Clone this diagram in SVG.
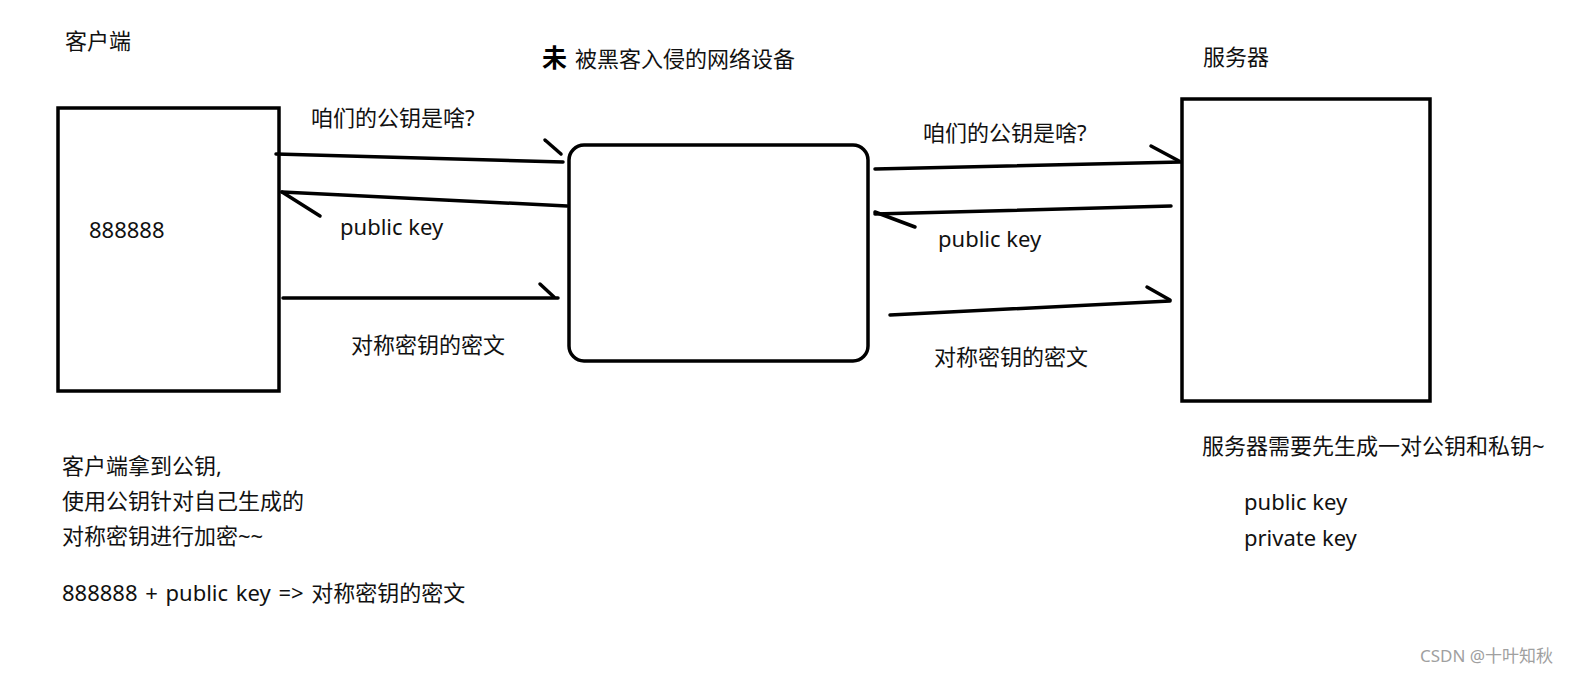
<svg xmlns="http://www.w3.org/2000/svg" width="1571" height="675" viewBox="0 0 1571 675">
<style>
.t{font-family:"Noto Sans","Noto Sans CJK SC",sans-serif;font-size:22px;fill:#111}
.box{fill:none;stroke:#000;stroke-width:3.5}
.ln{fill:none;stroke:#000;stroke-width:3.5;stroke-linecap:round}
.wm{font-family:"Noto Sans","Noto Sans CJK SC",sans-serif;font-size:17px;fill:#a0a0a0}
</style>
<rect width="1571" height="675" fill="#fff"/>
<g id="client">
<rect class="box" x="58" y="108" width="221" height="283"/>
<text class="t" x="65" y="49">客户端</text>
<text class="t" x="89" y="238">888888</text>
</g>
<g id="middle">
<rect class="box" x="569" y="145" width="299" height="216" rx="15"/>
<text x="542" y="67" style="font-family:'Noto Sans CJK SC',sans-serif;font-size:25px;font-weight:bold;fill:#000">未</text>
<text class="t" x="575" y="67">被黑客入侵的网络设备</text>
</g>
<g id="server">
<rect class="box" x="1182" y="99" width="248" height="302"/>
<text class="t" x="1203" y="65">服务器</text>
</g>
<g id="connectors">
<line class="ln" x1="276" y1="154" x2="563" y2="162"/>
<line class="ln" x1="545" y1="140" x2="561" y2="154"/>
<line class="ln" x1="567" y1="206" x2="282" y2="192"/>
<line class="ln" x1="282" y1="192" x2="320" y2="216"/>
<line class="ln" x1="283" y1="298" x2="558" y2="298"/>
<line class="ln" x1="540" y1="284" x2="554" y2="297"/>
<line class="ln" x1="875" y1="169" x2="1181" y2="162"/>
<line class="ln" x1="1151" y1="146" x2="1179" y2="161"/>
<line class="ln" x1="1171" y1="206" x2="875" y2="214"/>
<line class="ln" x1="875" y1="212" x2="915" y2="227"/>
<line class="ln" x1="890" y1="315" x2="1170" y2="301"/>
<line class="ln" x1="1147" y1="287" x2="1170" y2="300"/>
</g>
<g id="labels">
<text class="t" x="311" y="126">咱们的公钥是啥?</text>
<text class="t" x="340" y="235">public key</text>
<text class="t" x="351" y="353">对称密钥的密文</text>
<text class="t" x="923" y="141">咱们的公钥是啥?</text>
<text class="t" x="938" y="247">public key</text>
<text class="t" x="934" y="365">对称密钥的密文</text>
</g>
<g id="notes">
<text class="t" x="62" y="474">客户端拿到公钥,</text>
<text class="t" x="62" y="509">使用公钥针对自己生成的</text>
<text class="t" x="62" y="544">对称密钥进行加密~~</text>
<text class="t" x="62" y="601" word-spacing="2">888888 + public key =&gt; 对称密钥的密文</text>
<text class="t" x="1202" y="454">服务器需要先生成一对公钥和私钥~</text>
<text class="t" x="1244" y="510">public key</text>
<text class="t" x="1244" y="546">private key</text>
<text class="wm" x="1420" y="662">CSDN @十叶知秋</text>
</g>
</svg>
